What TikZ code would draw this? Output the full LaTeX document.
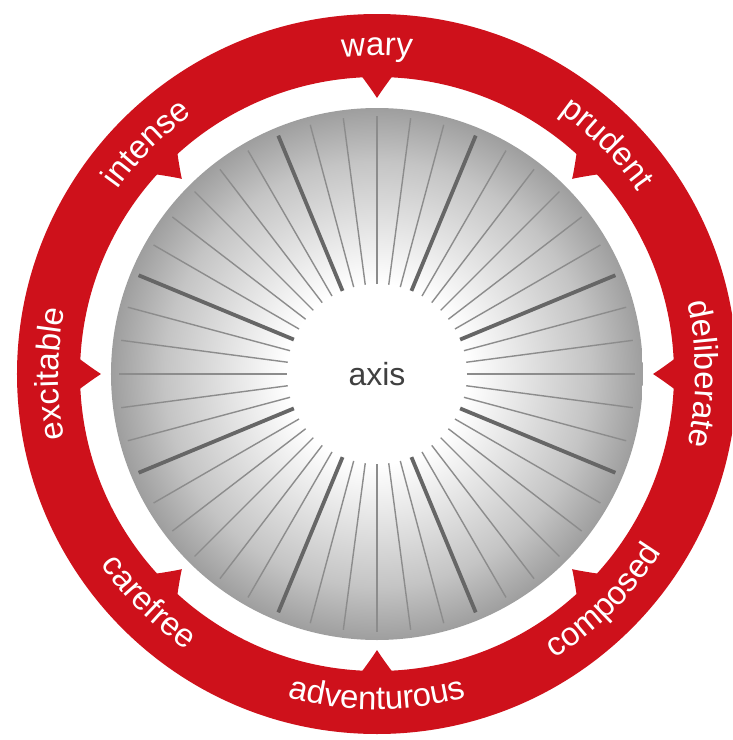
\documentclass[tikz,border=0pt]{standalone}
\usepackage{fontspec}
\setmainfont{Liberation Sans}
\usetikzlibrary{decorations.text}
\definecolor{ringred}{RGB}{206,17,27}
\definecolor{axisgray}{RGB}{64,64,64}
\newcommand\ringfont{\color{white}\fontsize{33}{40}\selectfont}
\pgfdeclareradialshading{diskshade}{\pgfpoint{0bp}{0bp}}{color(0bp)=(white); color(8.5bp)=(white); color(14bp)=(gray!22); color(20bp)=(gray!46); color(25bp)=(gray!76); color(50bp)=(gray!76)}

\begin{document}
\begin{tikzpicture}[x=1pt, y=1pt]
\clip (-377, -366) rectangle (355, 374);
\fill[ringred, even odd rule] (0, 0) circle (360) circle (297);
\def\drawpointer#1{% {angle}
	\fill[ringred] (#1-2.8:300) -- (#1-2.8:297) .. controls (#1-2:291) and (#1-0.9:283) .. (#1:276)
		.. controls (#1+0.9:283) and (#1+2:291) .. (#1+2.8:297) -- (#1+2.8:300) -- cycle
}
\def\upperlabel#1#2{% {angle}{label}
	\path[decorate, decoration={text along path, text align=center, text={|\ringfont|#2}}]
		(#1+40:318.5) arc[start angle=#1+40, end angle=#1-40, radius=318.5]
}
\def\lowerlabel#1#2{% {angle}{label}
	\path[decorate, decoration={text along path, text align=center, text={|\ringfont|#2}}]
		(#1-40:335.5) arc[start angle=#1-40, end angle=#1+40, radius=335.5]
}

\foreach \a in {0, 45, ..., 315}
	\drawpointer{\a};
\shade[shading=diskshade] (0, 0) circle (266);
\foreach \a in {0, 7.5, ..., 352.5}
	\draw[black!45, line width=1.4] (\a:90) -- (\a:258);
\foreach \a in {22.5, 67.5, ..., 337.5}
	\draw[black!60, line width=3.8] (\a:90) -- (\a:258);
\node[text=axisgray, font=\fontsize{32}{38}\selectfont] (axis) at (0, 0) {axis};

\upperlabel{90}{wary};
\upperlabel{45}{prudent};
\upperlabel{0}{deliberate};
\upperlabel{135}{intense};
\upperlabel{180}{excitable};
\lowerlabel{-45}{composed};
\lowerlabel{-90}{adventurous};
\lowerlabel{-135}{carefree};
\end{tikzpicture}
\end{document}
